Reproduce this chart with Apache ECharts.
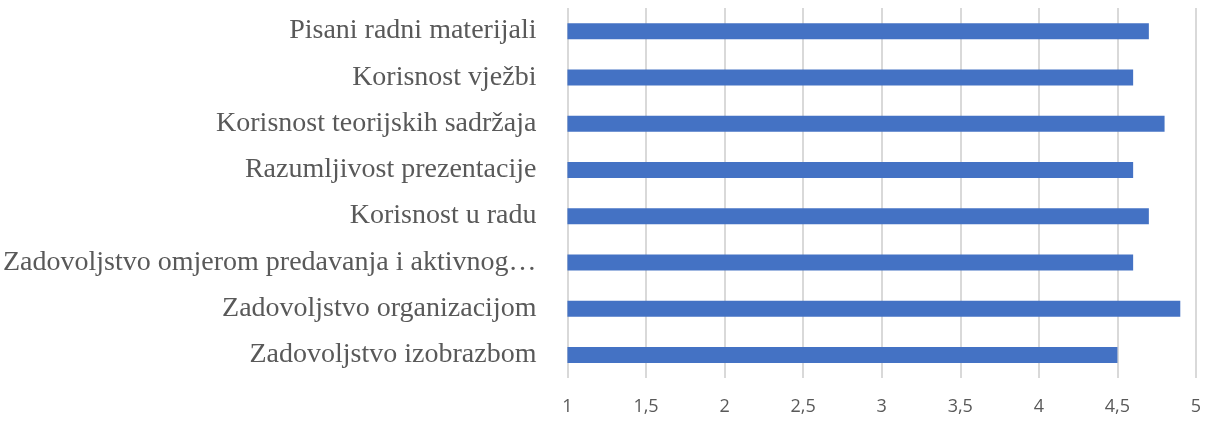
<!DOCTYPE html>
<html><head><meta charset="utf-8">
<script src="https://cdn.jsdelivr.net/npm/echarts@6/dist/echarts.min.js"></script>
<style>html,body{margin:0;padding:0;background:#fff}#c{width:1205px;height:421px}</style>
</head><body><div id="c"></div>
<script>
const categories = [
  "Pisani radni materijali",
  "Korisnost vježbi",
  "Korisnost teorijskih sadržaja",
  "Razumljivost prezentacije",
  "Korisnost u radu",
  "Zadovoljstvo omjerom predavanja i aktivnog…",
  "Zadovoljstvo organizacijom",
  "Zadovoljstvo izobrazbom"
];
const values = [4.7, 4.6, 4.8, 4.6, 4.7, 4.6, 4.9, 4.5];
const xMin = 1, xMax = 5, xStep = 0.5;

const chart = echarts.init(document.getElementById('c'));
chart.setOption({
  animation: false,
  grid: {left: 566, right: 9, top: 8, bottom: 43},
  xAxis: {
    type: 'value', min: xMin, max: xMax, interval: xStep,
    axisLine: {show: false}, axisTick: {show: false},
    splitLine: {lineStyle: {color: '#d9d9d9', width: 2}},
    axisLabel: {color: '#595959', fontFamily: 'Open Sans', fontSize: 18, margin: 20,
      formatter: v => String(v).replace('.', ',')}
  },
  yAxis: {
    type: 'category', data: categories, inverse: true,
    axisLine: {show: false}, axisTick: {show: false},
    axisLabel: {color: '#595959', fontFamily: 'Liberation Serif', fontSize: 28, margin: 31}
  },
  series: [{
    type: 'bar', data: values, barWidth: 16,
    itemStyle: {color: '#4472C4'}
  }]
});
</script></body></html>
